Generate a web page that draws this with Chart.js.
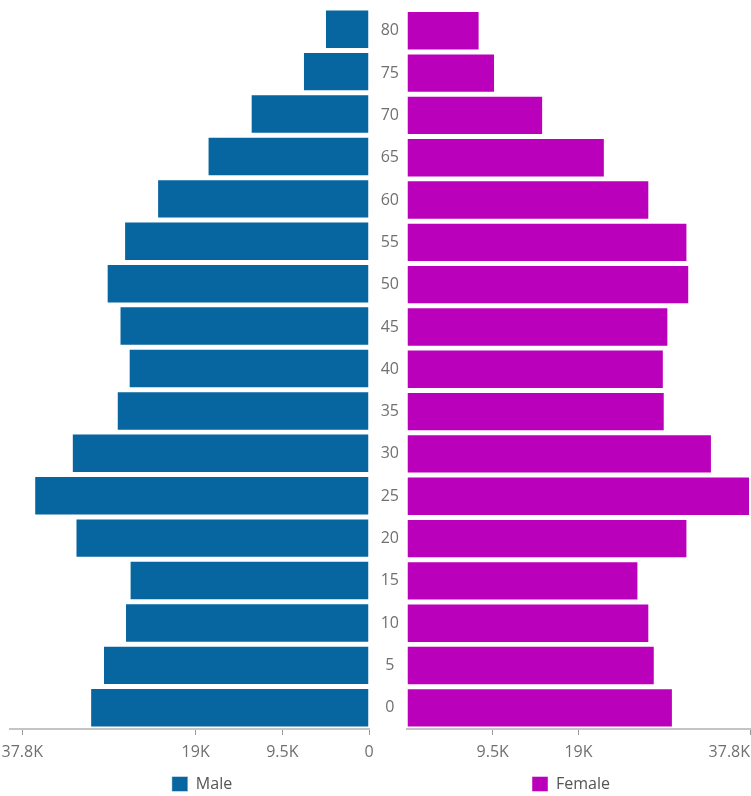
<!DOCTYPE html>
<html>
<head>
<meta charset="utf-8">
<script src="https://cdn.jsdelivr.net/npm/chart.js@4.4.1/dist/chart.umd.min.js"></script>
<style>
  html, body { margin: 0; padding: 0; overflow: hidden; background: #fff; width: 751px; height: 796px; }
  canvas { position: absolute; top: 0; }
  #male { left: 0; }
  #female { left: 372px; }
</style>
</head>
<body>
<canvas id="male" width="394" height="802"></canvas>
<canvas id="female" width="398" height="802"></canvas>
<script>
// age groups, top to bottom
var ages = ["80", "75", "70", "65", "60", "55", "50", "45", "40", "35", "30", "25", "20", "15", "10", "5", "0"];
var male = [4800, 7200, 12900, 17600, 23100, 26700, 28600, 27200, 26200, 27500, 32400, 36500, 32000, 26100, 26600, 29000, 30400];
var female = [8000, 9700, 15000, 21800, 26700, 30900, 31100, 28800, 28300, 28400, 33600, 37800, 30900, 25500, 26700, 27300, 29300];
var tickValues = [0, 9450, 18900, 37800];
var tickLabels = ["0", "9.5K", "19K", "37.8K"];

Chart.defaults.font.family = "'Open Sans', sans-serif";
Chart.defaults.font.size = 16;
Chart.defaults.color = "#707070";

function setTicks(scale) {
  scale.ticks = tickValues.map(function (v) { return { value: v }; });
}
function tickText(value) {
  var i = tickValues.indexOf(value);
  return i < 0 ? "" : tickLabels[i];
}

function legendOpts() {
  return {
    position: "bottom",
    labels: { boxWidth: 16, boxHeight: 15, padding: 10, color: "#555", font: { size: 16 } },
  };
}

var maleChart = new Chart(document.getElementById("male").getContext("2d"), {
  type: "bar",
  data: {
    labels: ages,
    datasets: [{
      label: "Male",
      data: male,
      backgroundColor: "#0765a0",
      borderColor: "rgba(255,255,255,0.45)",
      borderWidth: 1,
      categoryPercentage: 0.93,
      barPercentage: 1,
    }],
  },
  options: {
    indexAxis: "y",
    responsive: false,
    animation: false,
    layout: { padding: { top: 8, left: 10, right: 0, bottom: 0 } },
    scales: {
      x: {
        reverse: true,
        min: 0,
        max: 39140,
        afterBuildTicks: setTicks,
        afterFit: function (s) { s.height = 37; },
        ticks: { callback: tickText, padding: 8, maxRotation: 0 },
        grid: { drawOnChartArea: false, tickLength: 6, tickColor: "#999" },
        border: { color: "#c4c4c4", width: 2 },
      },
      y: {
        position: "right",
        afterFit: function (s) { s.width = 25; },
        ticks: { display: false },
        grid: { display: false },
        border: { display: false },
      },
    },
    plugins: { legend: legendOpts(), tooltip: { enabled: false } },
  },
});

var femaleChart = new Chart(document.getElementById("female").getContext("2d"), {
  type: "bar",
  data: {
    labels: ages,
    datasets: [{
      label: "Female",
      data: female,
      backgroundColor: "#bb00bb",
      borderColor: "rgba(255,255,255,0.45)",
      borderWidth: 1,
      categoryPercentage: 0.93,
      barPercentage: 1,
    }],
  },
  options: {
    indexAxis: "y",
    responsive: false,
    animation: false,
    layout: { padding: { top: 8, left: 0, right: 0, bottom: 0 } },
    scales: {
      x: {
        min: 0,
        max: 40000,
        afterBuildTicks: setTicks,
        afterFit: function (s) { s.height = 37; },
        ticks: {
          callback: function (v) { return v === 0 ? "" : tickText(v); },
          padding: 8, align: "inner", maxRotation: 0,
        },
        grid: {
          drawOnChartArea: false, tickLength: 6,
          tickColor: function (c) { return c.tick && c.tick.value === 0 ? "rgba(0,0,0,0)" : "#999"; },
        },
        border: { color: "#c4c4c4", width: 2 },
      },
      y: {
        position: "left",
        afterFit: function (s) { s.width = 35; },
        ticks: { crossAlign: "center", padding: 0 },
        grid: { display: false },
        border: { display: false },
      },
    },
    plugins: { legend: legendOpts(), tooltip: { enabled: false } },
  },
});
</script>
</body>
</html>
